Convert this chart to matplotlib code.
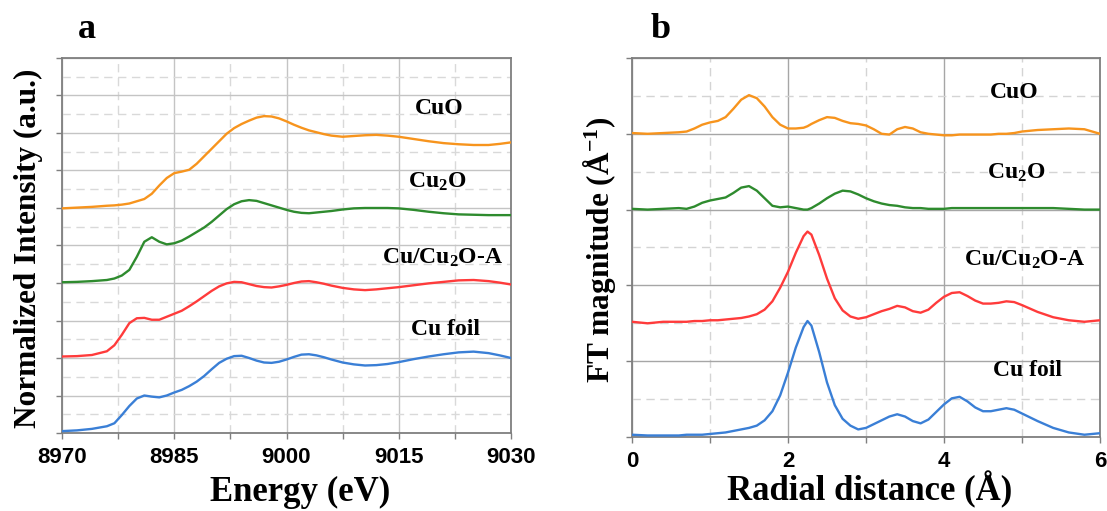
import numpy as np
import matplotlib
matplotlib.use("Agg")
import matplotlib.pyplot as plt
from matplotlib.ticker import MultipleLocator, NullFormatter

plt.rcParams["font.family"] = ["Liberation Serif", "DejaVu Serif"]
plt.rcParams["font.weight"] = "bold"
plt.rcParams["mathtext.fontset"] = "custom"
plt.rcParams["mathtext.rm"] = "Liberation Serif:bold"
plt.rcParams["mathtext.bf"] = "Liberation Serif:bold"
plt.rcParams["mathtext.default"] = "bf"

# --- XANES (Cu K-edge), stacked normalized spectra ---
energy = [8970, 8972, 8974, 8976,
          8977, 8978, 8979, 8980, 8981, 8982, 8983, 8984, 8985, 8986,
          8987, 8988, 8989, 8990, 8991, 8992, 8993, 8994, 8995, 8996,
          8997, 8998, 8999, 9000, 9001, 9002, 9003, 9004, 9005, 9006,
          9007.5, 9009, 9010.5, 9012, 9013.5, 9015,
          9017, 9019, 9021, 9023, 9025, 9027,
          9028.5, 9030]
xanes_cu_foil = [0.05, 0.07, 0.11, 0.18,
                 0.26, 0.48, 0.72, 0.92, 1.00, 0.97, 0.95, 1.00, 1.08, 1.15,
                 1.25, 1.37, 1.52, 1.70, 1.87, 1.98, 2.05, 2.06, 2.00, 1.93,
                 1.88, 1.87, 1.90, 1.96, 2.03, 2.09, 2.10, 2.07, 2.02, 1.96,
                 1.88, 1.83, 1.80, 1.81, 1.84, 1.89,
                 1.97, 2.04, 2.10, 2.15, 2.17, 2.13,
                 2.07, 2.00]
xanes_cu_cu2o = [2.04, 2.05, 2.08, 2.18,
                 2.34, 2.62, 2.93, 3.06, 3.07, 3.02, 3.02, 3.10, 3.18, 3.26,
                 3.38, 3.51, 3.65, 3.79, 3.91, 3.99, 4.03, 4.02, 3.97, 3.92,
                 3.89, 3.88, 3.91, 3.95, 4.00, 4.04, 4.05, 4.02, 3.98, 3.93,
                 3.87, 3.83, 3.81, 3.83, 3.86, 3.89,
                 3.94, 3.99, 4.03, 4.07, 4.08, 4.05,
                 4.01, 3.96]
xanes_cu2o = [4.02, 4.03, 4.05, 4.08,
              4.12, 4.20, 4.35, 4.70, 5.10, 5.22, 5.10, 5.03, 5.06, 5.13,
              5.24, 5.36, 5.48, 5.63, 5.80, 5.97, 6.10, 6.18, 6.21, 6.19,
              6.13, 6.07, 6.01, 5.95, 5.90, 5.87, 5.86, 5.88, 5.90, 5.92,
              5.96, 5.99, 6.00, 6.00, 6.00, 5.99,
              5.95, 5.90, 5.86, 5.83, 5.82, 5.81,
              5.81, 5.81]
xanes_cuo = [5.99, 6.01, 6.03, 6.06,
             6.07, 6.09, 6.12, 6.18, 6.24, 6.38, 6.60, 6.80, 6.93, 6.97,
             7.02, 7.18, 7.38, 7.58, 7.78, 7.98, 8.13, 8.24, 8.33, 8.41,
             8.45, 8.44, 8.39, 8.31, 8.22, 8.14, 8.07, 8.02, 7.97, 7.93,
             7.90, 7.92, 7.94, 7.95, 7.93, 7.90,
             7.84, 7.78, 7.73, 7.70, 7.68, 7.68,
             7.71, 7.75]

# --- FT-EXAFS magnitudes, stacked ---
radial = [0.0, 0.2, 0.4, 0.6, 0.7, 0.8, 0.9, 1.0, 1.1, 1.2, 1.3, 1.4, 1.5, 1.6,
          1.7, 1.8, 1.9, 2.0, 2.1, 2.2, 2.25, 2.3, 2.4, 2.5, 2.6, 2.7, 2.8, 2.9,
          3.0, 3.1, 3.2, 3.3, 3.4, 3.5, 3.6, 3.7, 3.8, 3.9, 4.0, 4.1, 4.2, 4.3,
          4.4, 4.5, 4.6, 4.7, 4.8, 4.9, 5.0, 5.2, 5.4, 5.6, 5.8, 6.0]
ft_cu_foil = [0.03, 0.02, 0.02, 0.02, 0.03, 0.03, 0.03, 0.04, 0.05, 0.06, 0.08,
              0.10, 0.12, 0.15, 0.22, 0.34, 0.55, 0.85, 1.18, 1.45, 1.53, 1.47,
              1.12, 0.72, 0.42, 0.24, 0.15, 0.10, 0.12, 0.17, 0.22, 0.27, 0.30,
              0.27, 0.21, 0.18, 0.23, 0.33, 0.43, 0.51, 0.53, 0.47, 0.39, 0.34,
              0.34, 0.36, 0.38, 0.36, 0.31, 0.21, 0.12, 0.06, 0.03, 0.05]
ft_cu_cu2o = [1.52, 1.50, 1.52, 1.52, 1.52, 1.53, 1.53, 1.54, 1.54, 1.55, 1.56,
              1.57, 1.59, 1.62, 1.68, 1.79, 1.97, 2.18, 2.43, 2.65, 2.71, 2.67,
              2.40, 2.09, 1.83, 1.67, 1.59, 1.56, 1.58, 1.62, 1.66, 1.69, 1.73,
              1.71, 1.66, 1.64, 1.68, 1.77, 1.85, 1.90, 1.91, 1.86, 1.80, 1.76,
              1.76, 1.77, 1.79, 1.78, 1.74, 1.65, 1.58, 1.54, 1.52, 1.54]
ft_cu2o = [3.01, 3.00, 3.01, 3.02, 3.01, 3.04, 3.09, 3.12, 3.14, 3.16, 3.22,
           3.29, 3.31, 3.25, 3.15, 3.05, 3.03, 3.04, 3.02, 3.00, 3.00, 3.02,
           3.08, 3.15, 3.21, 3.25, 3.24, 3.20, 3.15, 3.11, 3.08, 3.06, 3.05,
           3.03, 3.02, 3.02, 3.01, 3.01, 3.01, 3.02, 3.02, 3.02, 3.02, 3.02,
           3.02, 3.02, 3.02, 3.02, 3.02, 3.02, 3.02, 3.01, 3.00, 3.00]
ft_cuo = [4.01, 4.00, 4.01, 4.02, 4.03, 4.07, 4.12, 4.15, 4.17, 4.22, 4.33,
          4.45, 4.51, 4.47, 4.36, 4.22, 4.12, 4.07, 4.07, 4.08, 4.10, 4.13,
          4.18, 4.22, 4.21, 4.17, 4.14, 4.13, 4.11, 4.06, 4.00, 3.99, 4.06,
          4.09, 4.07, 4.02, 4.00, 3.99, 3.98, 3.98, 3.99, 3.99, 3.99, 3.99,
          3.99, 4.00, 4.00, 4.01, 4.03, 4.05, 4.06, 4.07, 4.06, 4.00]

names = ["CuO", "Cu$_2$O", "Cu/Cu$_2$O-A", "Cu foil"]
colors = ["#F7941D", "#2E8B2E", "#FF3B3B", "#3A7FD6"]

xanes_series = [xanes_cuo, xanes_cu2o, xanes_cu_cu2o, xanes_cu_foil]
ft_series = [ft_cuo, ft_cu2o, ft_cu_cu2o, ft_cu_foil]

xanes_label_pos = [(9020.4, 8.66), (9020.2, 6.70), (9020.8, 4.68), (9021.3, 2.75)]
ft_label_pos = [(4.90, 4.55), (4.93, 3.48), (5.03, 2.34), (5.07, 0.88)]


def style_axes(ax, major_grid, minor_grid):
    for s in ax.spines.values():
        s.set_color("#7f7f7f")
        s.set_linewidth(1.3)
    ax.grid(which="major", color=major_grid, lw=1.0, ls="-", zorder=0)
    ax.grid(which="minor", color=minor_grid, lw=1.0, ls=(0, (6, 4)), zorder=0)
    ax.set_axisbelow(True)
    ax.tick_params(axis="both", which="both", direction="out", color="#7f7f7f",
                   length=4, width=1.0)
    ax.tick_params(axis="y", which="minor", length=0)
    ax.tick_params(axis="x", which="major", pad=6, labelsize=16)
    ax.yaxis.set_major_formatter(NullFormatter())
    for lab in ax.get_xticklabels():
        lab.set_fontfamily("Liberation Sans")
        lab.set_fontweight("bold")


fig = plt.figure(figsize=(11.07, 5.11), dpi=100)
ax1 = fig.add_axes([62 / 1107, 1 - 433 / 511, 449 / 1107, 375 / 511])
ax2 = fig.add_axes([632 / 1107, 1 - 437 / 511, 468 / 1107, 379 / 511])

# panel a: XANES
for y, c in zip(xanes_series, colors):
    ax1.plot(energy, y, color=c, lw=1.7, zorder=3)
for name, (x, y) in zip(names, xanes_label_pos):
    ax1.text(x, y, name, ha="center", va="center", fontsize=17, zorder=4)
ax1.set_xlim(8970, 9030)
ax1.set_ylim(0, 10)
ax1.xaxis.set_major_locator(MultipleLocator(15))
ax1.xaxis.set_minor_locator(MultipleLocator(7.5))
ax1.yaxis.set_major_locator(MultipleLocator(1))
ax1.yaxis.set_minor_locator(MultipleLocator(0.5))
style_axes(ax1, "#c4c4c4", "#d9d9d9")

# panel b: FT-EXAFS
for y, c in zip(ft_series, colors):
    ax2.plot(radial, y, color=c, lw=1.7, zorder=3)
for name, (x, y) in zip(names, ft_label_pos):
    ax2.text(x, y, name, ha="center", va="center", fontsize=17, zorder=4)
ax2.set_xlim(0, 6)
ax2.set_ylim(0, 5)
ax2.xaxis.set_major_locator(MultipleLocator(2))
ax2.xaxis.set_minor_locator(MultipleLocator(1))
ax2.yaxis.set_major_locator(MultipleLocator(1))
ax2.yaxis.set_minor_locator(MultipleLocator(0.5))
style_axes(ax2, "#a6a6a6", "#d4d4d4")

# axis titles and panel letters
fig.text(300 / 1107, 1 - 492 / 511, "Energy (eV)", ha="center", va="center",
         fontsize=25)
fig.text(870 / 1107, 1 - 490 / 511, "Radial distance (Å)", ha="center",
         va="center", fontsize=25)
fig.text(28 / 1107, 1 - 248 / 511, "Normalized Intensity (a.u.)", ha="center",
         va="center", rotation=90, fontsize=22.5)
fig.text(600 / 1107, 1 - 250 / 511, "FT magnitude (Å$^{-1}$)", ha="center",
         va="center", rotation=90, fontsize=22.5)
fig.text(87 / 1107, 1 - 30 / 511, "a", ha="center", va="center", fontsize=26)
fig.text(661 / 1107, 1 - 30 / 511, "b", ha="center", va="center", fontsize=26)

fig.savefig("out.png", dpi=100)
